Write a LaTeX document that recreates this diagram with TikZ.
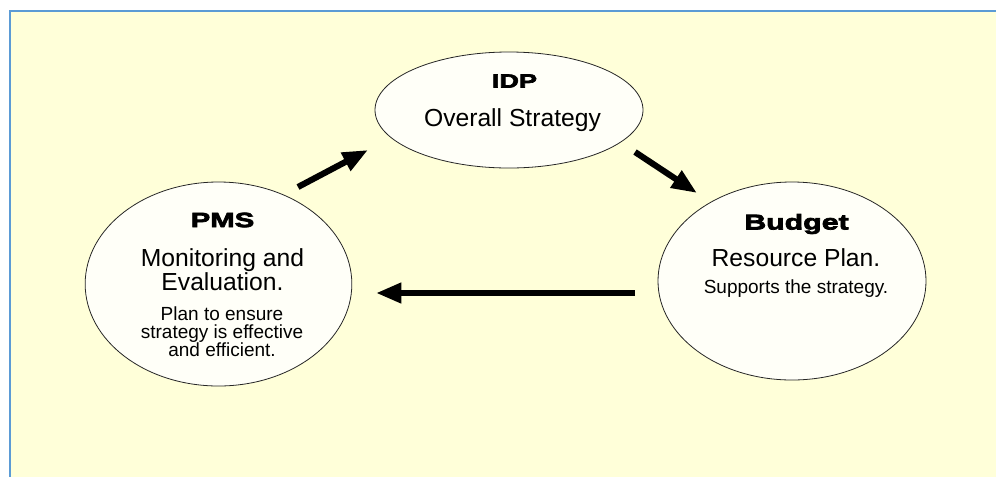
\documentclass[tikz,border=0pt]{standalone}
\usepackage{fontspec}
\setmainfont{Liberation Sans}
\newfontfamily\titlefont{Liberation Sans}[FakeStretch=1.42,BoldFeatures={FakeBold=3.5}]
\usetikzlibrary{arrows.meta,shapes.geometric}
\definecolor{paper}{RGB}{255,255,217}
\definecolor{frameblue}{RGB}{91,155,213}
\definecolor{bubblefill}{RGB}{255,255,248}
\tikzset{
	bubble/.style={draw=black!85, line width=0.6pt, fill=bubblefill, ellipse, inner sep=0pt},
	bigarrow/.style={line width=4.6pt, -{Triangle[length=19pt,width=14.5pt]}},
	headtext/.style={inner sep=0pt, font=\titlefont\bfseries\fontsize{#1}{#1}\selectfont},
	maintext/.style={inner sep=0pt, align=center, font=\fontsize{18.5}{16}\selectfont},
	smalltext/.style={inner sep=0pt, align=center, font=\fontsize{14.25}{13.5}\selectfont}
}

\begin{document}
\begin{tikzpicture}[x=0.75pt, y=-0.75pt]
			%%%%% START %%%%%
			
			\useasboundingbox (0, 0) rectangle (996, 476);
			\fill[paper] (10, 11) rectangle (1000, 480);
			\draw[frameblue, line width=1.5pt] (1000, 11) -- (10, 11) -- (10, 480);
			
			\node[bubble, minimum width=201pt, minimum height=87pt] (idp) at (509, 110) {};
			\node[bubble, minimum width=200pt, minimum height=153pt] (pms) at (218.5, 284) {};
			\node[bubble, minimum width=201pt, minimum height=148.5pt] (budget) at (792, 281) {};
			
			\node[headtext=14.3] (idphead) at (514.5, 81) {IDP};
			\node[maintext] (idpmain) at (512.5, 120) {Overall Strategy};
			
			\node[headtext=15.5] (pmshead) at (222.5, 220) {PMS};
			\node[maintext] (pmsmain) at (222.5, 270) {Monitoring and\\Evaluation.};
			\node[smalltext] (pmssmall) at (222, 332) {Plan to ensure\\strategy is effective\\and efficient.};
			
			\node[headtext=16] (budgethead) at (796.5, 224) {Budget};
			\node[maintext] (budgetmain) at (796, 258) {Resource Plan.};
			\node[smalltext] (budgetsmall) at (796, 289) {Supports the strategy.};
			
			\coordinate (up1) at (298, 187);
			\coordinate (up2) at (368, 150);
			\coordinate (dn1) at (635, 152);
			\coordinate (dn2) at (697, 193);
			\coordinate (bk1) at (635, 293);
			\coordinate (bk2) at (376, 293);
			
			\draw[bigarrow] (up1) -- (up2);
			\draw[bigarrow] (dn1) -- (dn2);
			\draw[bigarrow] (bk1) -- (bk2);
			
			%%%%% END %%%%%
\end{tikzpicture}
\end{document}
